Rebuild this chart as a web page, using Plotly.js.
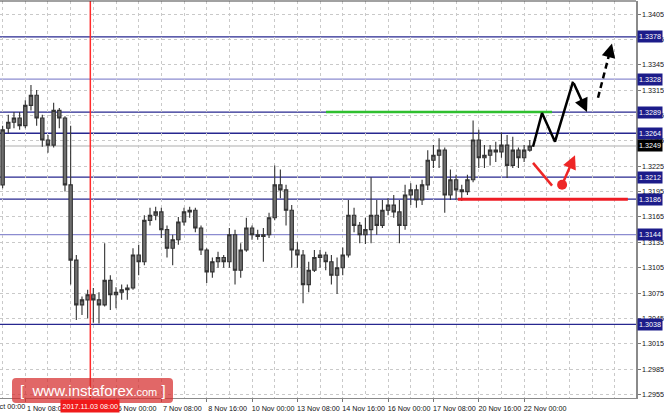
<!DOCTYPE html>
<html><head><meta charset="utf-8">
<script src="https://cdn.plot.ly/plotly-3.0.1.min.js"></script>
<style>html,body{margin:0;padding:0;background:#fff;}#chart{width:664px;height:415px;}</style>
</head><body><div id="chart"></div>
<script>
// ---- data (H4 bars, index 0 = 1 Nov 08:00) ----
const barIndex = [-4,-3,-2,-1,0,1,2,3,4,5,6,7,8,9,10,11,12,13,14,15,16,17,18,19,20,21,22,23,24,25,26,27,28,29,30,31,32,33,34,35,36,37,38,39,40,41,42,43,44,45,46,47,48,49,50,51,52,53,54,55,56,57,58,59,60,61,62,63,64,65,66,67,68,69,70,71,72,73,74,75,76,77,78,79,80,81,82,83,84,85,86,87,88,89];
const openP = [1.3203,1.3270,1.3277,1.3282,
 1.3273,1.3297,1.3309,1.3282,1.3256,1.3250,1.3291,1.3282,
 1.3203,1.3114,1.3061,1.3067,1.3073,1.3067,1.3061,1.3090,
 1.3073,1.3076,1.3079,1.3081,1.3120,1.3112,1.3161,1.3167,
 1.3171,1.3150,1.3128,1.3138,1.3159,1.3171,1.3173,1.3152,
 1.3126,1.3100,1.3112,1.3117,1.3112,1.3144,1.3102,1.3126,
 1.3152,1.3144,1.3142,1.3144,1.3164,1.3203,1.3197,1.3173,
 1.3126,1.3120,1.3085,1.3102,1.3117,1.3120,1.3112,1.3096,
 1.3105,1.3120,1.3167,1.3155,1.3144,1.3150,1.3167,1.3155,
 1.3173,1.3179,1.3171,1.3155,1.3191,1.3197,1.3185,1.3203,
 1.3232,1.3238,1.3244,1.3191,1.3209,1.3197,1.3195,1.3209,
 1.3256,1.3235,1.3238,1.3244,1.3242,1.3250,1.3226,1.3244,
 1.3235,1.3244];
const highP = [1.3273,1.3286,1.3289,1.3289,
 1.3303,1.3321,1.3315,1.3286,1.3262,1.3300,1.3294,1.3284,
 1.3273,1.3120,1.3071,1.3079,1.3081,1.3076,1.3134,1.3096,
 1.3082,1.3085,1.3085,1.3128,1.3132,1.3167,1.3176,1.3177,
 1.3176,1.3155,1.3144,1.3165,1.3176,1.3177,1.3176,1.3155,
 1.3128,1.3117,1.3124,1.3120,1.3152,1.3150,1.3134,1.3164,
 1.3155,1.3150,1.3152,1.3170,1.3226,1.3221,1.3203,1.3179,
 1.3135,1.3126,1.3112,1.3126,1.3126,1.3124,1.3120,1.3117,
 1.3129,1.3185,1.3176,1.3159,1.3164,1.3212,1.3185,1.3185,
 1.3187,1.3191,1.3185,1.3203,1.3205,1.3203,1.3209,1.3244,
 1.3250,1.3258,1.3247,1.3221,1.3215,1.3203,1.3215,1.3279,
 1.3268,1.3250,1.3250,1.3254,1.3265,1.3262,1.3260,1.3247,
 1.3250,1.3256];
const lowP = [1.3199,1.3264,1.3270,1.3268,
 1.3270,1.3291,1.3273,1.3248,1.3241,1.3247,1.3270,1.3195,
 1.3085,1.3043,1.3049,1.3045,1.3040,1.3039,1.3059,1.3055,
 1.3057,1.3067,1.3067,1.3079,1.3096,1.3108,1.3155,1.3161,
 1.3140,1.3117,1.3108,1.3132,1.3155,1.3164,1.3147,1.3120,
 1.3087,1.3093,1.3105,1.3105,1.3105,1.3085,1.3093,1.3124,
 1.3138,1.3138,1.3112,1.3140,1.3161,1.3187,1.3155,1.3105,
 1.3105,1.3063,1.3076,1.3100,1.3105,1.3102,1.3085,1.3074,
 1.3096,1.3117,1.3147,1.3134,1.3133,1.3134,1.3144,1.3152,
 1.3167,1.3164,1.3134,1.3150,1.3179,1.3176,1.3179,1.3197,
 1.3223,1.3223,1.3170,1.3185,1.3185,1.3184,1.3191,1.3206,
 1.3223,1.3223,1.3226,1.3230,1.3235,1.3211,1.3223,1.3223,
 1.3230,1.3242];
const closeP = [1.3268,1.3277,1.3282,1.3273,
 1.3297,1.3309,1.3282,1.3256,1.3250,1.3291,1.3282,1.3203,
 1.3114,1.3061,1.3067,1.3073,1.3067,1.3061,1.3090,1.3073,
 1.3076,1.3079,1.3081,1.3120,1.3112,1.3161,1.3167,1.3171,
 1.3150,1.3128,1.3138,1.3159,1.3171,1.3173,1.3152,1.3126,
 1.3100,1.3112,1.3117,1.3112,1.3144,1.3102,1.3126,1.3152,
 1.3144,1.3142,1.3144,1.3164,1.3203,1.3197,1.3173,1.3126,
 1.3120,1.3085,1.3102,1.3117,1.3120,1.3112,1.3096,1.3105,
 1.3120,1.3167,1.3155,1.3144,1.3150,1.3167,1.3155,1.3173,
 1.3179,1.3171,1.3155,1.3191,1.3197,1.3185,1.3203,1.3232,
 1.3238,1.3244,1.3191,1.3209,1.3197,1.3195,1.3209,1.3256,
 1.3235,1.3238,1.3244,1.3242,1.3250,1.3226,1.3244,1.3235,
 1.3244,1.3249];

const xTickIndex = [0,8,16,24,32,40,48,56,64,72,80,88];
const xTickLabels = ["1 Nov 08:00","2 Nov 16:00","6 Nov 00:00","7 Nov 08:00","8 Nov 16:00","10 Nov 00:00","13 Nov 08:00","14 Nov 16:00","16 Nov 00:00","17 Nov 08:00","20 Nov 16:00","22 Nov 00:00"];
const firstLabelIndex = -8;
const firstLabel = "31 Oct 00:00";
const yTickValues = [1.2955,1.2985,1.3015,1.3045,1.3075,1.3105,1.3135,1.3165,1.3195,1.3225,1.3255,1.3285,1.3315,1.3345,1.3375,1.3405];
const yTickLabels = ["1.2955","1.2985","1.3015","1.3045","1.3075","1.3105","1.3135","1.3165","1.3195","1.3225","1.3255","1.3285","1.3315","1.3345","1.3375","1.3405"];

const levelPrices = [1.3378,1.3328,1.3289,1.3264,1.3212,1.3186,1.3144,1.3038];
const levelLabels = ["1.3378","1.3328","1.3289","1.3264","1.3212","1.3186","1.3144","1.3038"];
const levelColors = ["#27278f","#8c8cd0","#27278f","#27278f","#27278f","#27278f","#8c8cd0","#27278f"];
const currentPrice = 1.3249;
const currentLabel = "1.3249";
const markerTimeIndex = 11.47;
const markerTimeLabel = "2017.11.03 08:00";

const greenLineX = [53.05, 92.93];
const greenLineY = [1.3289, 1.3289];
const redLineX = [76.3, 106.3];
const redLineY = [1.3186, 1.3186];
const zigX = [89.57, 91.16, 93.45, 96.63];
const zigY = [1.3248, 1.3288, 1.3254, 1.3325];
const zigArrowEnd = [99.1, 1.3289];
const dashX = [101.04, 103.0];
const dashY = [1.3306, 1.3357];
const dashArrowEnd = [103.5, 1.3370];
const redFallX = [89.57, 92.93];
const redFallY = [1.3229, 1.3202];
const redDot = [94.7, 1.3203];
const redArrowEnd = [96.98, 1.3238];

// ---- layout constants ----
const X_RANGE = [-4.464, 107.74];
const Y_RANGE = [1.29509, 1.34204];
const PW = 636, PB = 398, PH = 397;
const FONT = "Liberation Sans, Arial, sans-serif";
const px = x => x / PW;
const py = y => (PB - y) / PH;

const traces = [
  {type:'candlestick', x:barIndex, open:openP, high:highP, low:lowP, close:closeP,
   increasing:{line:{color:'#333333', width:1.1}, fillcolor:'#6f6f6f'},
   decreasing:{line:{color:'#333333', width:1.1}, fillcolor:'#6f6f6f'},
   whiskerwidth:0, hoverinfo:'skip', showlegend:false},
  {type:'scatter', mode:'lines', x:greenLineX, y:greenLineY, line:{color:'#2fbf2f', width:2.5}, hoverinfo:'skip'},
  {type:'scatter', mode:'lines', x:redLineX, y:redLineY, line:{color:'#ee1c24', width:3}, hoverinfo:'skip'},
  {type:'scatter', mode:'lines', x:zigX, y:zigY, line:{color:'#000', width:2.5}, hoverinfo:'skip'},
  {type:'scatter', mode:'lines', x:dashX, y:dashY, line:{color:'#000', width:2.5, dash:'6px,4px'}, hoverinfo:'skip'},
  {type:'scatter', mode:'lines', x:redFallX, y:redFallY, line:{color:'#ee2626', width:2.5}, hoverinfo:'skip'},
  {type:'scatter', mode:'markers', x:[redDot[0]], y:[redDot[1]], marker:{color:'#ee2626', size:10}, hoverinfo:'skip'}
];

const shapes = [];
shapes.push({type:'line', xref:'paper', yref:'y', x0:0, x1:1, y0:currentPrice, y1:currentPrice, line:{color:'#d6d6d6', width:2}, layer:'below'});
levelPrices.forEach((p,i)=>{
  shapes.push({type:'line', xref:'paper', yref:'y', x0:0, x1:1, y0:p, y1:p, line:{color:levelColors[i], width:1.3}, layer:'below'});
});
shapes.push({type:'line', xref:'x', yref:'paper', x0:markerTimeIndex, x1:markerTimeIndex, y0:0, y1:1, line:{color:'#ff2a2a', width:1.5}});
shapes.push({type:'line', xref:'paper', yref:'paper', x0:0, x1:1, y0:1, y1:1, line:{color:'#444', width:1.2}});
// watermark rounded box
(function(){
  const x0=px(12), x1=px(173), yt=py(378), yb=py(403), rx=px(4), ry=4/PH;
  const path = `M ${x0+rx},${yt} L ${x1-rx},${yt} Q ${x1},${yt} ${x1},${yt-ry} L ${x1},${yb+ry} Q ${x1},${yb} ${x1-rx},${yb} L ${x0+rx},${yb} Q ${x0},${yb} ${x0},${yb+ry} L ${x0},${yt-ry} Q ${x0},${yt} ${x0+rx},${yt} Z`;
  shapes.push({type:'path', xref:'paper', yref:'paper', path:path, fillcolor:'rgba(214,45,45,0.72)', line:{width:0}, layer:'above'});
})();

const annotations = [];
levelPrices.forEach((p,i)=>{
  annotations.push({xref:'paper', yref:'y', x:1, y:p, xanchor:'left', yanchor:'middle', xshift:1, text:levelLabels[i], showarrow:false,
    font:{family:FONT, size:7.2, color:'#fff'}, bgcolor:'#1c1c8a', borderpad:1});
});
annotations.push({xref:'paper', yref:'y', x:1, y:currentPrice, xanchor:'left', yanchor:'middle', xshift:1, text:currentLabel, showarrow:false,
  font:{family:FONT, size:7.2, color:'#fff'}, bgcolor:'#000', borderpad:1});
annotations.push({xref:'paper', yref:'paper', x:(firstLabelIndex - X_RANGE[0])/(X_RANGE[1]-X_RANGE[0]), y:py(406.5), xanchor:'left', yanchor:'middle', xshift:2,
  text:firstLabel, showarrow:false, font:{family:FONT, size:7.2, color:'#111'}});
annotations.push({xref:'x', yref:'paper', x:markerTimeIndex, y:py(405.5), xanchor:'center', yanchor:'middle', text:markerTimeLabel, showarrow:false,
  font:{family:FONT, size:7.2, color:'#fff'}, bgcolor:'#f01a1a', borderpad:1.5});
annotations.push({xref:'paper', yref:'paper', x:px(92.5), y:py(390.5), xanchor:'center', yanchor:'middle', showarrow:false,
  text:'[&nbsp;&nbsp;www.instaforex<span style="font-size:11px">.com</span>&nbsp;]', font:{family:FONT, size:15, color:'#fff'}});
// arrows
function arrow(from, to, color){
  return {xref:'x', yref:'y', axref:'x', ayref:'y', x:to[0], y:to[1], ax:from[0], ay:from[1], text:'', showarrow:true,
    arrowhead:2, arrowsize:1.1, arrowwidth:2.5, arrowcolor:color, standoff:0, startstandoff:0};
}
annotations.push(arrow([zigX[zigX.length-1], zigY[zigY.length-1]], zigArrowEnd, '#000'));
annotations.push(arrow([dashX[dashX.length-1], dashY[dashY.length-1]], dashArrowEnd, '#000'));
annotations.push(arrow(redDot, redArrowEnd, '#ee2626'));

const gridStyle = {gridcolor:'#c9c9c9', griddash:'3px,3px', gridwidth:1};
const layout = {
  width:664, height:415, margin:{l:0, r:28, t:1, b:17},
  paper_bgcolor:'#fff', plot_bgcolor:'#fff', showlegend:false, boxgap:0.15,
  font:{family:FONT, size:7.2, color:'#111'},
  xaxis:Object.assign({range:X_RANGE, tickmode:'array', tickvals:xTickIndex, ticktext:xTickLabels,
    ticks:'outside', ticklen:3, tickcolor:'#777', showline:true, linecolor:'#8a8a8a', linewidth:1,
    showgrid:true, zeroline:false, ticklabelshift:21, tickfont:{family:FONT, size:7.2, color:'#111'},
    rangeslider:{visible:false}, fixedrange:true,
    minor:{tickmode:'linear', tick0:0, dtick:4, showgrid:true, gridcolor:'#c9c9c9', griddash:'3px,3px', ticks:''}}, gridStyle),
  yaxis:Object.assign({range:Y_RANGE, side:'right', tickmode:'array', tickvals:yTickValues, ticktext:yTickLabels,
    ticks:'outside', ticklen:3, tickcolor:'#777', showline:true, linecolor:'#8a8a8a', linewidth:1.5,
    showgrid:true, zeroline:false, tickfont:{family:FONT, size:7.2, color:'#111'}, fixedrange:true}, gridStyle),
  shapes:shapes, annotations:annotations
};
Plotly.newPlot('chart', traces, layout, {displayModeBar:false, staticPlot:true});
</script>
</body></html>
